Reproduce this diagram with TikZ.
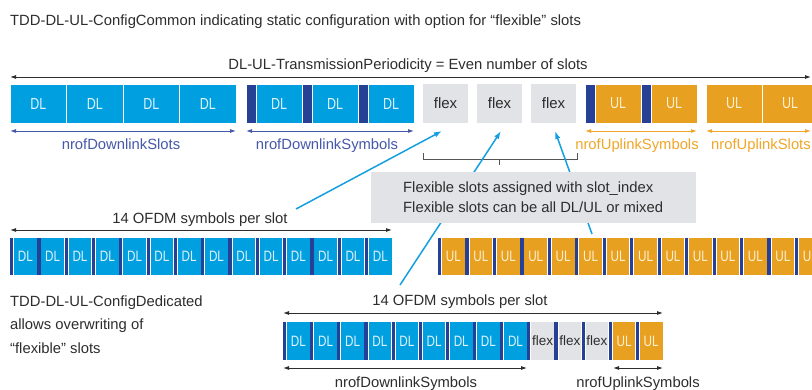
\documentclass[tikz,border=0pt]{standalone}
\usepackage{fontspec}
\setmainfont{Liberation Sans}
\newfontfamily\condf[FakeStretch=0.78]{Liberation Sans}
\usetikzlibrary{arrows.meta}
\definecolor{dlc}{RGB}{0,160,224}
\definecolor{barc}{RGB}{38,64,150}
\definecolor{ulc}{RGB}{232,160,32}
\definecolor{flexc}{RGB}{226,227,231}
\definecolor{txt}{RGB}{45,45,45}
\definecolor{lblue}{RGB}{70,88,170}
\definecolor{lorange}{RGB}{240,166,40}
\definecolor{arrc}{RGB}{20,160,224}
\definecolor{dltxt}{RGB}{225,242,255}
\definecolor{ultxt}{RGB}{255,240,210}
\definecolor{brk}{RGB}{85,85,85}
\tikzset{
  big/.style={font=\fontsize{14.8}{18}\selectfont},
  slotbox/.style={draw=white, line width=0.8pt, inner sep=0pt, outer sep=0pt,
    anchor=north west, minimum height=39pt, font=\condf\fontsize{16}{18}\selectfont},
  dlbox/.style={slotbox, fill=dlc, text=dltxt},
  ulbox/.style={slotbox, fill=ulc, text=ultxt},
  flexbox/.style={slotbox, draw=none, fill=flexc, text=txt, minimum width=45pt,
    font=\fontsize{15}{18}\selectfont},
  barbox/.style={slotbox, fill=barc, minimum width=10pt},
  symbox/.style={draw=none, inner sep=0pt, outer sep=0pt, anchor=north west,
    minimum height=37pt, font=\condf\fontsize{15}{16}\selectfont},
  symbar/.style={symbox, fill=barc, minimum width=3.2pt},
  dlsym/.style={symbox, fill=dlc, text=dltxt, minimum width=22.6pt},
  ulsym/.style={symbox, fill=ulc, text=ultxt, minimum width=22.6pt},
  flexsym/.style={symbox, fill=flexc, text=txt, minimum width=22.6pt,
    font=\fontsize{13.5}{16}\selectfont},
  dimarr/.style={line width=0.9pt, {Latex[length=6pt,width=4pt]}-{Latex[length=6pt,width=4pt]}},
  cyanarr/.style={draw=arrc, line width=1.5pt, -{Latex[length=8pt,width=5.5pt]}},
  lbl/.style={anchor=base, inner sep=0pt, big},
}
\begin{document}
\begin{tikzpicture}[x=1pt,y=-1pt]
\clip (0,0) rectangle (812,390);
\fill[white] (0,0) rectangle (812,390);

% title
\node[anchor=base west, inner sep=0pt, big, text=txt] (title) at (10,26)
  {TDD-DL-UL-ConfigCommon indicating static configuration with option for “flexible” slots};

% top period arrow
\coordinate (pl) at (10,77);
\coordinate (pr) at (811,77);
\draw[dimarr, draw=txt] (pl) -- (pr);
\node[lbl, text=txt] (plbl) at (408,70) {DL-UL-TransmissionPeriodicity = Even number of slots};

% row 1: DL slots
\foreach \i in {0,...,3}
  \node[dlbox, minimum width=56.5pt] (dls\i) at ({10+56.5*\i},84) {DL};
% DL symbols slots
\foreach \i in {0,1,2}{
  \node[barbox] (dlb\i) at ({246+56*\i},84) {};
  \node[dlbox, minimum width=46pt] (dly\i) at ({256+56*\i},84) {DL};
}
% flex
\node[flexbox] (fx1) at (423,84) {flex};
\node[flexbox] (fx2) at (477,84) {flex};
\node[flexbox] (fx3) at (531,84) {flex};
% UL symbols slots
\foreach \i in {0,1}{
  \node[barbox] (ulb\i) at ({585+56*\i},84) {};
  \node[ulbox, minimum width=46pt] (uly\i) at ({595+56*\i},84) {UL};
}
% UL slots
\foreach \i in {0,1}
  \node[ulbox, minimum width=56pt] (uls\i) at ({706+56*\i},84) {UL};

% dimension arrows row 1
\coordinate (a1l) at (10,131);  \coordinate (a1r) at (236,131);
\coordinate (a2l) at (246,131); \coordinate (a2r) at (414,131);
\coordinate (a3l) at (585,131); \coordinate (a3r) at (697,131);
\coordinate (a4l) at (706,131); \coordinate (a4r) at (811,131);
\draw[dimarr, draw=lblue] (a1l) -- (a1r);
\draw[dimarr, draw=lblue] (a2l) -- (a2r);
\draw[dimarr, draw=lorange] (a3l) -- (a3r);
\draw[dimarr, draw=lorange] (a4l) -- (a4r);
\node[lbl, text=lblue] (l1) at (121,150) {nrofDownlinkSlots};
\node[lbl, text=lblue] (l2) at (327,150) {nrofDownlinkSymbols};
\node[lbl, text=lorange] (l3) at (637,150) {nrofUplinkSymbols};
\node[lbl, text=lorange] (l4) at (761,150) {nrofUplinkSlots};

% bracket
\coordinate (bk1) at (423,153);
\coordinate (bk2) at (577,153);
\coordinate (bkm) at (499,165);
\draw[brk, line width=1pt] (bk1) -- (423,160) -- (577,160) -- (bk2);
\draw[brk, line width=1pt] (499,160) -- (bkm);

% cyan arrows
\coordinate (s1) at (296,209);
\coordinate (s2) at (400,285);
\coordinate (s3) at (592,234);
\draw[cyanarr] (s1) -- ([xshift=-3.5pt,yshift=-8pt]fx1.south);
\draw[cyanarr] (s2) -- ([xshift=1.5pt,yshift=-8pt]fx2.south);
\draw[cyanarr] (s3) -- ([xshift=1.5pt,yshift=-8pt]fx3.south);

% info box
\node[fill=flexc, inner sep=0pt, outer sep=0pt, anchor=north west,
  minimum width=325pt, minimum height=51pt] (info) at (371,172) {};
\node[anchor=base west, inner sep=0pt, align=left, text=txt,
  font=\fontsize{14.8}{20.5}\selectfont] (infot) at (403,213)
  {Flexible slots assigned with slot\_index\\Flexible slots can be all DL/UL or mixed};

% row 2 left: 14 DL symbols
\coordinate (b2l) at (10,230); \coordinate (b2r) at (392,230);
\draw[dimarr, draw=txt] (b2l) -- (b2r);
\node[lbl, text=txt] (ofdm1) at (200,224) {14 OFDM symbols per slot};
\foreach \i in {0,...,13}{
  \node[symbar] (db\i) at ({10+27.3*\i},238) {};
  \node[dlsym] (ds\i) at ({14.1+27.3*\i},238) {DL};
}
% row 2 right: UL symbols
\foreach \i in {0,...,13}{
  \node[symbar] (ub\i) at ({438+27.45*\i},238) {};
  \node[ulsym] (us\i) at ({442.1+27.45*\i},238) {UL};
}

% left text
\node[anchor=base west, inner sep=0pt, align=left, text=txt,
  font=\fontsize{14.8}{23.5}\selectfont] (ded) at (10,353)
  {TDD-DL-UL-ConfigDedicated\\allows overwriting of\\“flexible” slots};

% row 3
\coordinate (b3l) at (283,313); \coordinate (b3r) at (663,313);
\draw[dimarr, draw=txt] (b3l) -- (b3r);
\node[lbl, text=txt] (ofdm2) at (460,306) {14 OFDM symbols per slot};
\foreach \i in {0,...,8}{
  \node[symbar, minimum height=38pt] (eb\i) at ({283+27.14*\i},322) {};
  \node[dlsym, minimum height=38pt] (es\i) at ({287.1+27.14*\i},322) {DL};
}
\foreach \i in {9,10,11}{
  \node[symbar, minimum height=38pt] (eb\i) at ({283+27.14*\i},322) {};
  \node[flexsym, minimum height=38pt] (es\i) at ({287.1+27.14*\i},322) {flex};
}
\foreach \i in {12,13}{
  \node[symbar, minimum height=38pt] (eb\i) at ({283+27.14*\i},322) {};
  \node[ulsym, minimum height=38pt] (es\i) at ({287.1+27.14*\i},322) {UL};
}
\coordinate (c1l) at (283,368); \coordinate (c1r) at (527,368);
\coordinate (c2l) at (613,368); \coordinate (c2r) at (663,368);
\draw[dimarr, draw=txt] (c1l) -- (c1r);
\draw[dimarr, draw=txt] (c2l) -- (c2r);
\node[lbl, text=txt] (l5) at (406,387) {nrofDownlinkSymbols};
\node[lbl, text=txt] (l6) at (638,387) {nrofUplinkSymbols};
\end{tikzpicture}
\end{document}
